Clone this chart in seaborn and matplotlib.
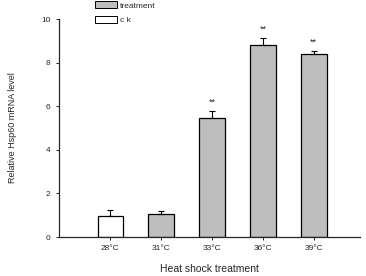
import pandas as pd
import numpy as np
import matplotlib
matplotlib.use('Agg')
import matplotlib.pyplot as plt
import seaborn as sns
from matplotlib.patches import Patch

# values
temps = ['28°C', '31°C', '33°C', '36°C', '39°C']
groups = ['c k', 'treatment', 'treatment', 'treatment', 'treatment']
levels = [0.97, 1.05, 5.45, 8.8, 8.38]
errors = [0.25, 0.15, 0.35, 0.33, 0.15]
marks = ['', '', '**', '**', '**']

df = pd.DataFrame({'Temp': temps, 'Group': groups, 'Level': levels})

sns.set_style('ticks')
plt.rcParams['font.family'] = ['Liberation Sans', 'DejaVu Sans']

fig = plt.figure(figsize=(3.66, 2.76), dpi=100)
ax = fig.add_axes([0.161, 0.141, 0.823, 0.79])

sns.barplot(data=df, x='Temp', y='Level', hue='Group', hue_order=['treatment', 'c k'],
            palette={'treatment': '#BEBEBE', 'c k': 'white'}, dodge=False,
            width=0.5, edgecolor='black', linewidth=0.9, errorbar=None, ax=ax, legend=False)

x = np.arange(len(temps))
ax.errorbar(x, levels, yerr=[np.zeros(len(levels)), errors], fmt='none',
            ecolor='black', elinewidth=0.8, capsize=2.5, capthick=0.8)
for xi, lv, er, m in zip(x, levels, errors, marks):
    if m:
        ax.text(xi, lv + er + 0.2, m, ha='center', va='bottom', fontsize=6.5)

ax.set_xlim(-1.01, 4.91)
ax.set_ylim(0, 10)
ax.set_yticks([0, 2, 4, 6, 8, 10])
ax.tick_params(axis='both', labelsize=6, length=2.5, width=0.7)
ax.set_xlabel('Heat shock treatment', fontsize=7.5, labelpad=8)
ax.set_ylabel('Relative Hsp60 mRNA level', fontsize=6.5, labelpad=17)
sns.despine(ax=ax)
for s in ['left', 'bottom']:
    ax.spines[s].set_linewidth(0.9)

handles = [Patch(facecolor='#BEBEBE', edgecolor='black', linewidth=0.7, label='treatment'),
           Patch(facecolor='white', edgecolor='black', linewidth=0.7, label='c k')]
fig.legend(handles=handles, loc='upper left', bbox_to_anchor=(0.24, 1.022), frameon=False,
           fontsize=6, handlelength=2.6, handleheight=0.9, labelspacing=0.75, handletextpad=0.4)

fig.savefig('out.png', dpi=100)
